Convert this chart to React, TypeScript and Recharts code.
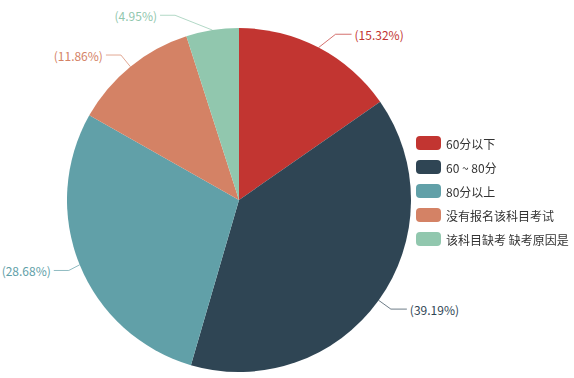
import React from 'react';
import { PieChart, Pie, Cell, Legend } from 'recharts';

const CATEGORIES = ['60分以下', '60 ~ 80分', '80分以上', '没有报名该科目考试', '该科目缺考 缺考原因是'];
const VALUES = [15.32, 39.19, 28.68, 11.86, 4.95];
const COLORS = ['#c23531', '#2f4554', '#61a0a8', '#d48265', '#91c7ae'];
// horizontal nudge of each label-line elbow (echarts moved a couple apart)
const ELBOW_SHIFT = [10, 0, 3, 0, -35];

const chartData = CATEGORIES.map((name, i) => ({ name, value: VALUES[i] }));

const RADIAN = Math.PI / 180;
const FONT = '"Microsoft YaHei", "Noto Sans CJK SC", sans-serif';

function renderLabel(props: any) {
  const { cx, cy, midAngle, outerRadius, index, value } = props;
  const cos = Math.cos(-midAngle * RADIAN);
  const sin = Math.sin(-midAngle * RADIAN);
  const sx = cx + outerRadius * cos;
  const sy = cy + outerRadius * sin;
  const mx = cx + (outerRadius + 15) * cos + (ELBOW_SHIFT[index] ?? 0);
  const my = cy + (outerRadius + 15) * sin;
  const right = cos >= 0;
  const ex = mx + (right ? 16 : -15);
  const color = COLORS[index % COLORS.length];
  return (
    <g key={`lbl-${index}`}>
      <polyline
        points={`${sx},${sy} ${mx},${my} ${ex},${my}`}
        fill="none"
        stroke={color}
        strokeOpacity={0.7}
        strokeWidth={1}
      />
      <text
        x={ex + (right ? 3 : -3)}
        y={my}
        fill={color}
        fontSize={12}
        fontFamily={FONT}
        textAnchor={right ? 'start' : 'end'}
        dominantBaseline="central"
      >
        {`(${Number(value).toFixed(2)}%)`}
      </text>
    </g>
  );
}

function LegendContent() {
  return (
    <div style={{ display: 'flex', flexDirection: 'column' }}>
      {chartData.map((d, i) => (
        <div key={d.name} style={{ display: 'flex', alignItems: 'center', height: 14, marginBottom: 10 }}>
          <div style={{ width: 25, height: 14, borderRadius: 4, background: COLORS[i], marginRight: 5 }} />
          <span style={{ fontSize: 12, color: '#333', fontFamily: FONT, whiteSpace: 'nowrap' }}>{d.name}</span>
        </div>
      ))}
    </div>
  );
}

export default function App() {
  return (
    <div style={{ position: 'fixed', left: 0, top: 0, width: 574, height: 378, background: '#fff' }}>
      <PieChart width={574} height={378} margin={{ top: 0, right: 0, bottom: 0, left: 0 }}>
        <Pie
          data={chartData}
          dataKey="value"
          nameKey="name"
          cx={239}
          cy={200}
          outerRadius={172}
          startAngle={90}
          endAngle={-270}
          stroke="none"
          label={renderLabel}
          labelLine={false}
          isAnimationActive={false}
        >
          {chartData.map((_, i) => (
            <Cell key={i} fill={COLORS[i % COLORS.length]} />
          ))}
        </Pie>
        <Legend
          layout="vertical"
          content={() => <LegendContent />}
          wrapperStyle={{ position: 'absolute', left: 416, top: 136, width: 160 }}
        />
      </PieChart>
    </div>
  );
}
